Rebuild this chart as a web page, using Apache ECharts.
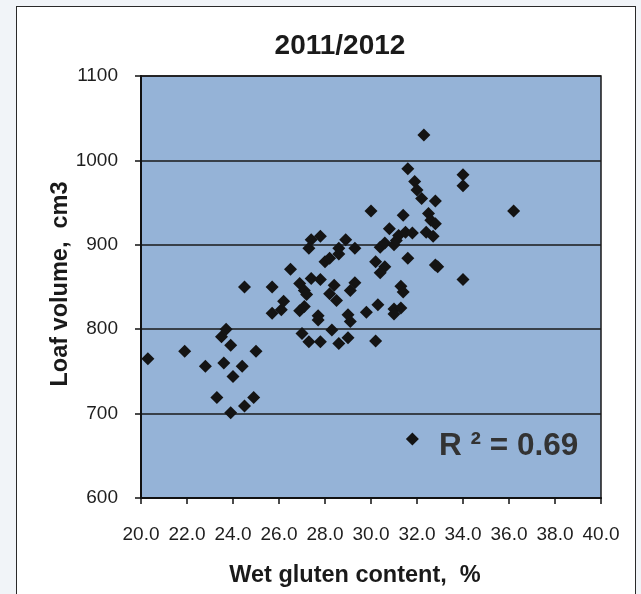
<!DOCTYPE html>
<html>
<head>
<meta charset="utf-8">
<script src="https://cdn.jsdelivr.net/npm/echarts@6/dist/echarts.min.js"></script>
<style>
html,body{margin:0;padding:0;background:#f1f4f8;}
#frame{position:absolute;left:16px;top:6px;width:620px;height:600px;background:#fff;border:1.5px solid #2a2a2a;box-sizing:border-box;}
#chart{position:absolute;left:0;top:0;width:641px;height:594px;}
</style>
</head>
<body>
<div id="frame"></div>
<div id="chart"></div>
<script>
var titleText = '2011/2012';
var xAxisName = 'Wet gluten content,  %';
var yAxisName = 'Loaf volume,  cm3';
var r2Label = 'R ² = 0.69';
var xTicks = [20, 22, 24, 26, 28, 30, 32, 34, 36, 38, 40];
var yTicks = [600, 700, 800, 900, 1000, 1100];

var glutenContent = [
  20.3, 21.9, 22.8, 23.3, 23.5, 23.7, 23.6, 23.9, 24.0, 23.9,
  24.4, 24.5, 24.9, 25.0, 24.5, 25.7, 25.7, 26.1, 26.2, 26.5,
  26.9, 27.1, 27.2, 27.4, 27.8, 26.9, 27.1, 27.0, 27.3, 27.8,
  27.7, 27.7, 27.3, 27.4, 27.8, 28.0, 28.2, 28.6, 28.6, 28.9,
  29.3, 28.4, 28.2, 28.5, 29.3, 29.1, 28.3, 28.6, 29.0, 29.0,
  29.1, 29.8, 30.3, 30.2, 30.0, 30.4, 30.6, 31.0, 30.2, 30.6,
  30.4, 30.8, 31.2, 31.5, 31.8, 31.1, 31.4, 31.6, 31.3, 31.4,
  31.0, 31.3, 31.0, 32.4, 32.7, 32.5, 32.6, 32.8, 32.2, 32.8,
  31.6, 32.3, 31.9, 32.0, 34.0, 34.0, 36.2, 32.8, 32.9, 34.0,
  31.8
];
var loafVolume = [
  765, 774, 756, 719, 791, 800, 760, 781, 744, 701,
  756, 709, 719, 774, 850, 850, 819, 823, 833, 871,
  854, 846, 841, 860, 859, 822, 827, 795, 785, 785,
  816, 811, 896, 906, 910, 880, 884, 889, 896, 906,
  896, 852, 842, 834, 855, 846, 799, 783, 790, 817,
  809, 820, 829, 786, 940, 897, 902, 900, 880, 874,
  867, 919, 911, 915, 914, 905, 935, 884, 851, 844,
  824, 825, 818, 915, 910, 937, 929, 925, 955, 952,
  990, 1030, 975, 965, 983, 970, 940, 876, 874, 859,
  670
];

var points = glutenContent.map(function (x, i) { return [x, loafVolume[i]]; });
var FONT = '"Liberation Sans", Arial, sans-serif';

var chart = echarts.init(document.getElementById('chart'), null, {renderer: 'canvas'});
chart.setOption({
  backgroundColor: 'transparent',
  animation: false,
  grid: {
    left: 141, right: 40, top: 76, bottom: 96,
    show: true, backgroundColor: '#95b3d7', borderColor: '#1a1a1a', borderWidth: 1.5
  },
  xAxis: {
    type: 'value', min: xTicks[0], max: xTicks[xTicks.length - 1], interval: 2,
    axisLine: {show: true, onZero: false, lineStyle: {color: '#111', width: 2}},
    axisTick: {show: true, inside: false, length: 6, lineStyle: {color: '#111', width: 1.5}},
    axisLabel: {color: '#1e1e1e', fontSize: 19, fontFamily: FONT, margin: 27,
      formatter: function (v) { return v.toFixed(1); }},
    splitLine: {show: false}
  },
  yAxis: {
    type: 'value', min: yTicks[0], max: yTicks[yTicks.length - 1], interval: 100,
    axisLine: {show: true, onZero: false, lineStyle: {color: '#111', width: 2}},
    axisTick: {show: true, inside: false, length: 6, lineStyle: {color: '#111', width: 1.5}},
    axisLabel: {color: '#1e1e1e', fontSize: 19, fontFamily: FONT, margin: 23,
      formatter: function (v) { return String(v); }},
    splitLine: {show: true, lineStyle: {color: '#1a1a1a', width: 1.6}}
  },
  series: [{
    type: 'scatter',
    data: points,
    symbol: 'diamond',
    symbolSize: 13,
    itemStyle: {color: '#141414', opacity: 1}
  }],
  graphic: [
    {type: 'text', x: 340, y: 46, style: {text: titleText, fill: '#1a1a1a',
      font: 'bold 28px ' + FONT, textAlign: 'center', textVerticalAlign: 'middle'}},
    {type: 'text', x: 355, y: 576, style: {text: xAxisName, fill: '#1a1a1a',
      font: 'bold 23.5px ' + FONT, textAlign: 'center', textVerticalAlign: 'middle'}},
    {type: 'text', x: 61, y: 284, rotation: Math.PI / 2, style: {text: yAxisName, fill: '#1a1a1a',
      font: 'bold 23.5px ' + FONT, textAlign: 'center', textVerticalAlign: 'middle'}},
    {type: 'text', x: 439, y: 446, z: 10, style: {text: r2Label, fill: '#333',
      font: 'bold 31.5px ' + FONT, textAlign: 'left', textVerticalAlign: 'middle'}}
  ]
});
</script>
</body>
</html>
